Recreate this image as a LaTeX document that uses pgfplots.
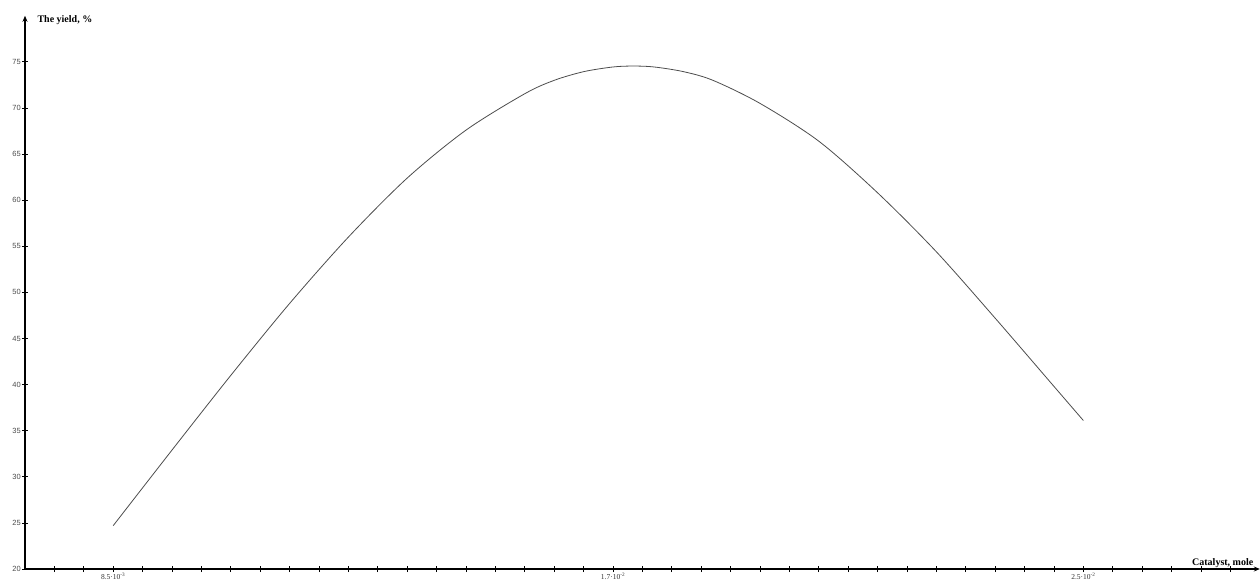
\documentclass[border=0pt]{standalone}
\usepackage{fontspec}
\setmainfont{Liberation Serif}
\setsansfont{Liberation Sans}
\usepackage{pgfplots}
\pgfplotsset{compat=1.18}
\usetikzlibrary{arrows.meta}

\begin{document}
\begin{tikzpicture}
\begin{axis}[
  scale only axis,
  width=1234.8pt, height=553.2pt,
  xmin=7, xmax=28, ymin=20, ymax=80,
  axis lines=left,
  axis line style={line width=1.4pt, -{Stealth[length=6pt,width=5pt]}},
  xtick={7.5,8,...,27.5},
  xticklabels={},
  extra x ticks={8.5,17,25},
  extra x tick labels={8.5·10\textsuperscript{-3}, 1.7·10\textsuperscript{-2}, 2.5·10\textsuperscript{-2}},
  extra x tick style={tick align=center, major tick length=6pt},
  ytick={20,25,...,75},
  tick align=center,
  major tick length=6pt,
  tick style={black, line width=0.8pt},
  yticklabel style={font=\sffamily\fontsize{7.5}{8}\selectfont, text=black!70, inner sep=1pt},
  xticklabel style={font=\fontsize{7.5}{8}\selectfont, text=black!80, inner sep=0.5pt},
  /pgf/number format/assume math mode=true,
  clip=false,
]
% yield (%) against catalyst amount (10^-3 mole)
\addplot[smooth, black!70, line width=0.8pt] coordinates {
  (8.5,24.7) (9.5,32.9) (10.5,41.0) (11.5,48.8) (12.5,56.0) (13.5,62.4)
  (14.5,67.6) (15.5,71.55) (16.0,73.0) (16.5,73.94) (17.0,74.45) (17.35,74.55)
  (17.7,74.45) (18.2,73.94) (18.7,73.0) (19.5,70.5) (20.5,66.4) (21.5,60.8)
  (22.5,54.4) (23.5,47.2) (24.5,39.8) (25.0,36.1)
};
\node[anchor=west, font=\bfseries\fontsize{10}{12}\selectfont, xshift=9pt, yshift=-4pt]
  at (rel axis cs:0,1) {The yield, \%};
\node[anchor=base east, font=\bfseries\fontsize{10}{12}\selectfont, xshift=-3pt, yshift=4pt]
  at (rel axis cs:1,0) {Catalyst, mole};
\coordinate (O) at (rel axis cs:0,0);
\end{axis}
\pgfresetboundingbox
\path (O) ++(-25pt,-12pt) rectangle ++(1260pt,581pt);
\end{tikzpicture}
\end{document}
